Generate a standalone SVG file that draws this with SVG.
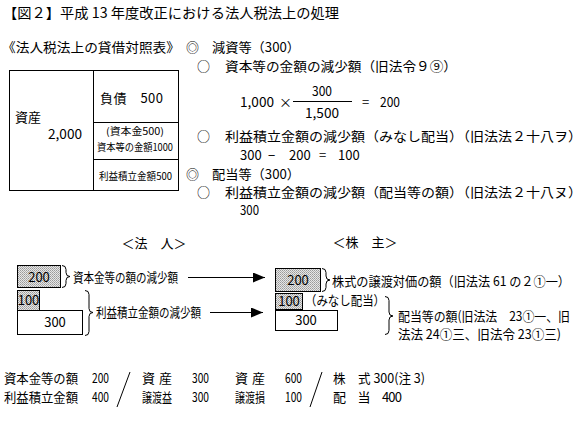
<svg xmlns="http://www.w3.org/2000/svg" width="588" height="426" viewBox="0 0 588 426">
<defs>
<pattern id="dots" width="2" height="2" patternUnits="userSpaceOnUse">
<rect width="2" height="2" fill="#e6e6e6"/>
<rect width="1" height="1" fill="#9a9a9a"/>
<rect x="1" y="1" width="1" height="1" fill="#b0b0b0"/>
</pattern>
<marker id="ah" markerWidth="12" markerHeight="10" refX="12" refY="5" orient="auto" markerUnits="userSpaceOnUse">
<path d="M0,0 L12,5 L0,10 Z" fill="#000"/>
</marker>
<style>
text{font-family:"Noto Sans CJK JP","Noto Sans",sans-serif;fill:#000;font-size:13px}
.t{font-size:14px}
.sm{font-size:10px}
.box{fill:#fff;stroke:#000;stroke-width:1}
.hat{fill:url(#dots);stroke:#000;stroke-width:1}
.ln{stroke:#000;stroke-width:1;fill:none}
.brace{stroke:#000;stroke-width:1;fill:none}
.mid{text-anchor:middle}
</style>
</defs>
<rect width="588" height="426" fill="#fff"/>

<g id="title"><text class="t" x="3" y="18" textLength="336" lengthAdjust="spacingAndGlyphs">【図２】平成 13 年度改正における法人税法上の処理</text></g>

<g id="bs-title"><text x="2" y="52" textLength="178" lengthAdjust="spacingAndGlyphs">《法人税法上の貸借対照表》</text></g>

<g id="balance-sheet">
<rect class="box" x="9.5" y="70.5" width="169" height="120"/>
<line class="ln" x1="93.5" y1="70.5" x2="93.5" y2="190.5"/>
<line class="ln" x1="93.5" y1="122.5" x2="178.5" y2="122.5"/>
<line class="ln" x1="93.5" y1="159.5" x2="178.5" y2="159.5"/>
<text x="15" y="122">資産</text>
<text x="48" y="139" textLength="34" lengthAdjust="spacingAndGlyphs">2,000</text>
<text x="100" y="103" textLength="63" lengthAdjust="spacing">負債　500</text>
<text class="sm" x="135" y="135" text-anchor="middle" textLength="58" lengthAdjust="spacingAndGlyphs">(資本金500)</text>
<text class="sm" x="97" y="151" textLength="76" lengthAdjust="spacingAndGlyphs">資本等の金額1000</text>
<text class="sm" x="99" y="180" textLength="73" lengthAdjust="spacingAndGlyphs">利益積立金額500</text>
</g>

<g id="explanation">
<text x="186" y="52">◎</text>
<text x="212" y="52" textLength="88" lengthAdjust="spacingAndGlyphs">減資等（300）</text>
<text x="197" y="71">○</text>
<text x="225" y="71" textLength="232" lengthAdjust="spacingAndGlyphs">資本等の金額の減少額（旧法令９⑨）</text>
<text x="240" y="107" textLength="34" lengthAdjust="spacingAndGlyphs">1,000</text>
<text x="279" y="107">×</text>
<text x="322" y="96" class="mid" textLength="20" lengthAdjust="spacingAndGlyphs">300</text>
<line class="ln" x1="293" y1="101.5" x2="352" y2="101.5"/>
<text x="322" y="118" class="mid" textLength="34" lengthAdjust="spacingAndGlyphs">1,500</text>
<text x="362" y="107">=</text>
<text x="380" y="107" textLength="20" lengthAdjust="spacingAndGlyphs">200</text>
<text x="197" y="141">○</text>
<text x="225" y="141" textLength="357" lengthAdjust="spacingAndGlyphs">利益積立金額の減少額（みなし配当）（旧法法２十八ヲ）</text>
<text y="160" font-size="12"><tspan x="240">300</tspan><tspan x="268">−</tspan><tspan x="289">200</tspan><tspan x="319">=</tspan><tspan x="338">100</tspan></text>
<text x="186" y="179">◎</text>
<text x="212" y="179" textLength="88" lengthAdjust="spacingAndGlyphs">配当等（300）</text>
<text x="197" y="197">○</text>
<text x="225" y="197" textLength="357" lengthAdjust="spacingAndGlyphs">利益積立金額の減少額（配当等の額）（旧法法２十八ヌ）</text>
<text x="240" y="215" textLength="19" lengthAdjust="spacingAndGlyphs">300</text>
</g>

<g id="corp-label"><text x="154" y="248" class="mid">＜法　人＞</text></g>
<g id="share-label"><text x="365" y="247" class="mid">＜株　主＞</text></g>

<g id="corp-blocks">
<rect class="hat" x="17.5" y="265.5" width="43" height="22"/>
<text x="39" y="282" class="mid">200</text>
<rect class="hat" x="17.5" y="290.5" width="22" height="20"/>
<text x="28.5" y="305" class="mid" font-size="11">100</text>
<rect class="box" x="17.5" y="310.5" width="65" height="24"/>
<text x="55" y="327" class="mid">300</text>
<text x="73" y="282" textLength="105" lengthAdjust="spacingAndGlyphs">資本金等の額の減少額</text>
<text x="96" y="317" textLength="105" lengthAdjust="spacingAndGlyphs">利益積立金額の減少額</text>
</g>

<g id="share-blocks">
<rect class="hat" x="275.5" y="268.5" width="45" height="23"/>
<text x="298" y="285" class="mid">200</text>
<rect class="hat" x="275.5" y="293.5" width="27" height="16"/>
<text x="289" y="306" class="mid" font-size="11">100</text>
<rect class="box" x="275.5" y="310.5" width="62" height="20"/>
<text x="306" y="325" class="mid">300</text>
<text x="305" y="305" textLength="80" lengthAdjust="spacingAndGlyphs">（みなし配当）</text>
<text x="332" y="286" textLength="238" lengthAdjust="spacingAndGlyphs">株式の譲渡対価の額（旧法法 61 の２①一）</text>
<text x="398" y="321" textLength="172" lengthAdjust="spacingAndGlyphs">配当等の額(旧法法　23①一、旧</text>
<text x="398" y="339" textLength="163" lengthAdjust="spacingAndGlyphs">法法 24①三、旧法令 23①三)</text>
</g>

<g id="connectors">
<path class="brace" d="M62,265.5 Q66,265.5 66,269.5 L66,272.5 Q66,276.5 70,276.5 Q66,276.5 66,280.5 L66,283.5 Q66,287.5 62,287.5"/>
<path class="brace" d="M85,290.5 Q89,290.5 89,294.5 L89,308.5 Q89,312.5 93,312.5 Q89,312.5 89,316.5 L89,331.5 Q89,335.5 85,335.5"/>
<path class="brace" d="M322,268.5 Q326,268.5 326,272.5 L326,276 Q326,280 330,280 Q326,280 326,284 L326,287.5 Q326,291.5 322,291.5"/>
<path class="brace" d="M385,296.5 Q389,296.5 389,300.5 L389,312 Q389,316 393,316 Q389,316 389,320 L389,330.5 Q389,334.5 385,334.5"/>
<line class="ln" x1="188" y1="277.5" x2="265" y2="277.5" marker-end="url(#ah)"/>
<line class="ln" x1="210" y1="312.5" x2="263" y2="312.5" marker-end="url(#ah)"/>
</g>

<g id="journal">
<text x="4" y="383" textLength="74" lengthAdjust="spacingAndGlyphs">資本金等の額</text>
<text x="92" y="383" textLength="17" lengthAdjust="spacingAndGlyphs">200</text>
<text x="4" y="402" textLength="74" lengthAdjust="spacingAndGlyphs">利益積立金額</text>
<text x="92" y="402" textLength="17" lengthAdjust="spacingAndGlyphs">400</text>
<line class="ln" x1="130" y1="372" x2="117" y2="407"/>
<text x="142" y="383" textLength="30" lengthAdjust="spacing">資　産</text>
<text x="192" y="383" textLength="17" lengthAdjust="spacingAndGlyphs">300</text>
<text x="142" y="402" textLength="30" lengthAdjust="spacingAndGlyphs">譲渡益</text>
<text x="192" y="402" textLength="17" lengthAdjust="spacingAndGlyphs">300</text>
<text x="235" y="383" textLength="30" lengthAdjust="spacing">資　産</text>
<text x="285" y="383" textLength="17" lengthAdjust="spacingAndGlyphs">600</text>
<text x="235" y="402" textLength="30" lengthAdjust="spacingAndGlyphs">譲渡損</text>
<text x="285" y="402" textLength="17" lengthAdjust="spacingAndGlyphs">100</text>
<line class="ln" x1="322" y1="372" x2="310" y2="407"/>
<text x="333" y="383" textLength="92" lengthAdjust="spacingAndGlyphs">株　式 300(注 3)</text>
<text x="333" y="402" textLength="69" lengthAdjust="spacing">配　当　400</text>
</g>
</svg>
